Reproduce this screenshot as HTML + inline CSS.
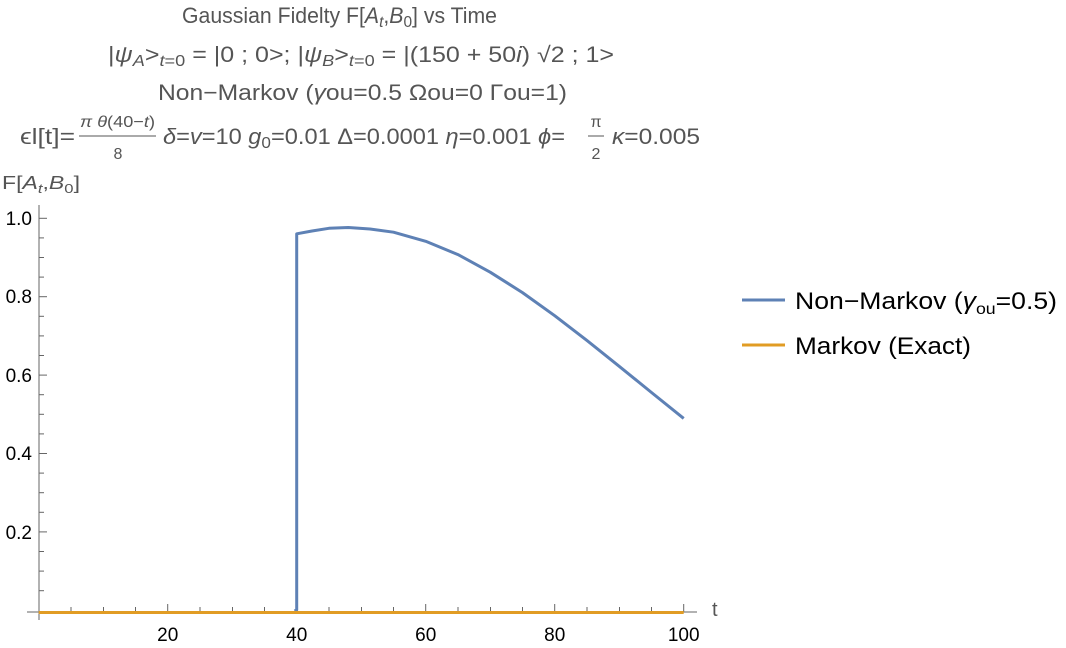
<!DOCTYPE html>
<html><head><meta charset="utf-8"><style>
body{margin:0;background:#fff;}
svg{display:block;font-family:"Liberation Sans",sans-serif;}
.t{fill:#555;font-size:22px;}
.k{fill:#000;font-size:19px;}
</style></head><body>
<svg width="1066" height="648" viewBox="0 0 1066 648">
<g class="t">
<text x="182" y="23" textLength="315" lengthAdjust="spacingAndGlyphs">Gaussian Fidelty F[<tspan font-style="italic">A</tspan><tspan font-style="italic" font-size="16" dy="4">t</tspan><tspan dy="-4">,</tspan><tspan font-style="italic">B</tspan><tspan font-size="16" dy="4">0</tspan><tspan dy="-4">] vs Time</tspan></text>
<text x="108" y="62" textLength="506" lengthAdjust="spacingAndGlyphs">|<tspan font-style="italic">ψ</tspan><tspan font-style="italic" font-size="16" dy="4">A</tspan><tspan dy="-4">&gt;</tspan><tspan font-size="16" dy="4" font-style="italic">t</tspan><tspan font-size="16">=0</tspan><tspan dy="-4"> = |0 ; 0&gt;; |</tspan><tspan font-style="italic">ψ</tspan><tspan font-style="italic" font-size="16" dy="4">B</tspan><tspan dy="-4">&gt;</tspan><tspan font-size="16" dy="4" font-style="italic">t</tspan><tspan font-size="16">=0</tspan><tspan dy="-4"> = |(150 + 50</tspan><tspan font-style="italic">i</tspan><tspan>) √2  ; 1&gt;</tspan></text>
<text x="158" y="100" textLength="409" lengthAdjust="spacingAndGlyphs">Non−Markov (<tspan font-style="italic">γ</tspan>ou=0.5  Ωou=0 Γou=1)</text>
<text x="20" y="144" textLength="55" lengthAdjust="spacingAndGlyphs">ϵl[t]=</text>
<text x="80" y="127" font-size="16" textLength="75" lengthAdjust="spacingAndGlyphs"><tspan font-style="italic">π θ</tspan>(40−<tspan font-style="italic">t</tspan>)</text>
<line x1="79" y1="136" x2="156" y2="136" stroke="#555" stroke-width="1"/>
<text x="118" y="159" text-anchor="middle" font-size="16">8</text>
<text x="163" y="144" textLength="402" lengthAdjust="spacingAndGlyphs"><tspan font-style="italic">δ</tspan>=<tspan font-style="italic">v</tspan>=10 <tspan font-style="italic">g</tspan><tspan font-size="16" dy="4">0</tspan><tspan dy="-4">=0.01 Δ=0.0001 </tspan><tspan font-style="italic">η</tspan>=0.001 <tspan font-style="italic">ϕ</tspan>=</text>
<text x="596" y="127" text-anchor="middle" font-size="16">π</text>
<line x1="588" y1="136" x2="604" y2="136" stroke="#555" stroke-width="1"/>
<text x="596" y="159" text-anchor="middle" font-size="16">2</text>
<text x="612" y="144" textLength="88" lengthAdjust="spacingAndGlyphs"><tspan font-style="italic">κ</tspan>=0.005</text>
<text x="2" y="189" font-size="18" textLength="78" lengthAdjust="spacingAndGlyphs">F[<tspan font-style="italic">A</tspan><tspan font-style="italic" font-size="13" dy="4">t</tspan><tspan dy="-4">,</tspan><tspan font-style="italic">B</tspan><tspan font-size="13" dy="4">0</tspan><tspan dy="-4">]</tspan></text>
<text x="712" y="616" font-size="20">t</text>
</g>
<g stroke="#666" stroke-width="1">
<line x1="39" y1="205" x2="39" y2="620"/>
<line x1="27" y1="612" x2="697" y2="612"/>
<line x1="39" y1="218.3" x2="47" y2="218.3"/><line x1="39" y1="296.7" x2="47" y2="296.7"/><line x1="39" y1="375.1" x2="47" y2="375.1"/><line x1="39" y1="453.5" x2="47" y2="453.5"/><line x1="39" y1="531.9" x2="47" y2="531.9"/>
<line x1="39" y1="237.9" x2="44" y2="237.9"/><line x1="39" y1="257.5" x2="44" y2="257.5"/><line x1="39" y1="277.1" x2="44" y2="277.1"/>
<line x1="39" y1="316.3" x2="44" y2="316.3"/><line x1="39" y1="335.9" x2="44" y2="335.9"/><line x1="39" y1="355.5" x2="44" y2="355.5"/>
<line x1="39" y1="394.7" x2="44" y2="394.7"/><line x1="39" y1="414.3" x2="44" y2="414.3"/><line x1="39" y1="433.9" x2="44" y2="433.9"/>
<line x1="39" y1="473.1" x2="44" y2="473.1"/><line x1="39" y1="492.7" x2="44" y2="492.7"/><line x1="39" y1="512.3" x2="44" y2="512.3"/>
<line x1="39" y1="551.5" x2="44" y2="551.5"/><line x1="39" y1="571.1" x2="44" y2="571.1"/><line x1="39" y1="590.7" x2="44" y2="590.7"/>
<line x1="167.7" y1="604" x2="167.7" y2="612"/><line x1="296.7" y1="604" x2="296.7" y2="612"/><line x1="425.7" y1="604" x2="425.7" y2="612"/><line x1="554.7" y1="604" x2="554.7" y2="612"/><line x1="683.7" y1="604" x2="683.7" y2="612"/>
<line x1="71" y1="607" x2="71" y2="612"/><line x1="103.5" y1="607" x2="103.5" y2="612"/><line x1="135.5" y1="607" x2="135.5" y2="612"/>
<line x1="200" y1="607" x2="200" y2="612"/><line x1="232.5" y1="607" x2="232.5" y2="612"/><line x1="264.5" y1="607" x2="264.5" y2="612"/>
<line x1="329" y1="607" x2="329" y2="612"/><line x1="361.5" y1="607" x2="361.5" y2="612"/><line x1="393.5" y1="607" x2="393.5" y2="612"/>
<line x1="458" y1="607" x2="458" y2="612"/><line x1="490.5" y1="607" x2="490.5" y2="612"/><line x1="522.5" y1="607" x2="522.5" y2="612"/>
<line x1="587" y1="607" x2="587" y2="612"/><line x1="619.5" y1="607" x2="619.5" y2="612"/><line x1="651.5" y1="607" x2="651.5" y2="612"/>
</g>
<g class="k" text-anchor="end">
<text x="32" y="225">1.0</text><text x="32" y="303">0.8</text><text x="32" y="382">0.6</text><text x="32" y="460">0.4</text><text x="32" y="539">0.2</text>
</g>
<g class="k" text-anchor="middle">
<text x="167.7" y="641">20</text><text x="296.7" y="641">40</text><text x="425.7" y="641">60</text><text x="554.7" y="641">80</text><text x="683.7" y="641">100</text>
</g>
<polyline fill="none" stroke="#5e81b5" stroke-width="3" stroke-linejoin="round" points="294.5,611 296.7,610 296.7,233.8 312,231 328.9,228.3 348.3,227.5 370,229 393.5,232.2 425.7,241.3 458,254.6 490.2,272.2 522.5,292.6 554.7,315.7 586.9,340.4 619.2,366.3 651.5,392.5 683.7,418.4"/>
<line x1="38.7" y1="612.5" x2="683.7" y2="612.5" stroke="#e19c24" stroke-width="3"/>
<line x1="742" y1="300" x2="785" y2="300" stroke="#5e81b5" stroke-width="3"/>
<line x1="742" y1="345" x2="785" y2="345" stroke="#e19c24" stroke-width="3"/>
<text x="795" y="309" font-size="24" fill="#000" textLength="262" lengthAdjust="spacingAndGlyphs">Non−Markov (<tspan font-style="italic">γ</tspan><tspan font-size="16" dy="5">ou</tspan><tspan dy="-5">=0.5)</tspan></text>
<text x="795" y="354" font-size="24" fill="#000" textLength="176" lengthAdjust="spacingAndGlyphs">Markov (Exact)</text>
</svg>
</body></html>
